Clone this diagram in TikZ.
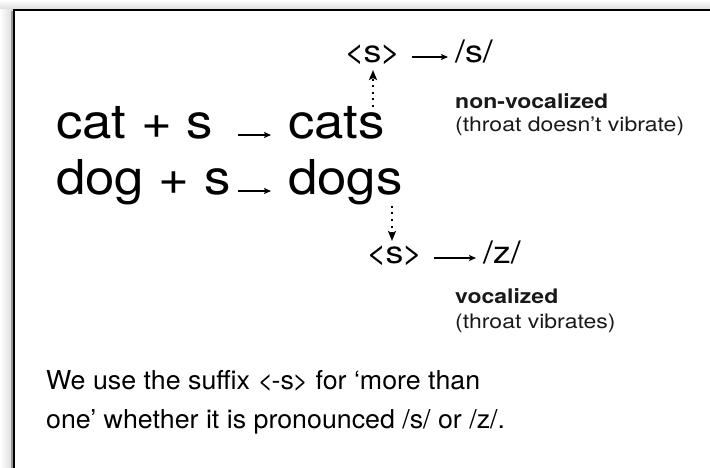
\documentclass[tikz,border=0pt]{standalone}
\usepackage{fontspec}
\setmainfont{TeX Gyre Heros}
\newfontfamily\wordfont[FakeStretch=1.1]{TeX Gyre Heros}
\newfontfamily\labelfont[FakeStretch=1.15]{TeX Gyre Heros}
\newfontfamily\bodyfont[FakeStretch=1.03]{TeX Gyre Heros}
\newcommand\angled[1]{<\kern-1.5pt#1\kern-1.5pt>}
\usetikzlibrary{arrows.meta,calc}
\begin{document}
\begin{tikzpicture}[x=1pt,y=-1pt,
  big/.style={inner sep=0pt, font=\wordfont\fontsize{48}{48}\selectfont, anchor=base west},
  mid/.style={inner sep=0pt, font=\labelfont\fontsize{31}{31}\selectfont, anchor=base west},
  note/.style={inner sep=0pt, font=\labelfont\fontsize{20}{20}\selectfont, anchor=base west, text=black!90},
  notebold/.style={note, font=\labelfont\fontsize{20}{20}\selectfont\bfseries},
  body/.style={inner sep=0pt, font=\bodyfont\fontsize{26}{26}\selectfont, anchor=base west},
  thinarrow/.style={line width=1.1pt, -{Stealth[length=7pt,width=6pt,inset=1.5pt]}},
  dotarrow/.style={line width=2pt, dash pattern=on 2pt off 4.5pt, -{Stealth[length=10pt,width=8pt,inset=2pt]}}
]
\useasboundingbox (0,0) rectangle (710,468);
% page background and slide shadow
\fill[white] (0,0) rectangle (710,468);
\shade[top color=white, bottom color=black!14] (0,0) rectangle (710,10);
\shade[left color=white, right color=black!16] (0,10) rectangle (14,468);
\draw[black!40, line width=2pt] (12,468) -- (12,11);
\draw[line width=1.6pt] (14,468) -- (14,10) -- (710,10);

% word formation
\node[big] (cat) at (56,139) {cat + s};
\node[big] (cats) at (288,139) {cats};
\node[big] (dog) at (56,195) {dog + s};
\node[big] (dogs) at (288,195) {dogs};
\draw[thinarrow] ([shift={(25pt,4pt)}]cat.base east) -- ([shift={(-17pt,4pt)}]cats.base west);
\draw[thinarrow] ([shift={(7pt,4pt)}]dog.base east) -- ([shift={(-17pt,4pt)}]dogs.base west);

% voiceless ending
\node[mid] (ltS) at (344,63) {\angled{s}};
\node[mid] (phS) at (455,63) {/s/};
\draw[thinarrow] ([shift={(11pt,6pt)}]ltS.base east) -- ([shift={(-7pt,6pt)}]phS.base west);
\coordinate (catsS) at (373,107);
\draw[dotarrow] (catsS) -- (373,70);
\node[notebold] (nv) at (455,109) {non-vocalized};
\node[note] (nvx) at (455,132) {(throat doesn’t vibrate)};

% voiced ending
\coordinate (dogsS) at (392,206);
\node[mid] (ltZ) at (366,263) {\angled{s}};
\node[mid] (phZ) at (483,263) {/z/};
\draw[thinarrow] ([shift={(11pt,5pt)}]ltZ.base east) -- ([shift={(-7pt,5pt)}]phZ.base west);
\draw[dotarrow] (dogsS) -- (392,241);
\node[notebold] (vo) at (455,303) {vocalized};
\node[note] (vox) at (455,328) {(throat vibrates)};

% summary
\node[body] (sum1) at (46,389) {We use the suffix \angled{-s} for ‘more than};
\node[body] (sum2) at (46,428) {one’ whether it is pronounced /s/ or /z/.};
\end{tikzpicture}
\end{document}
